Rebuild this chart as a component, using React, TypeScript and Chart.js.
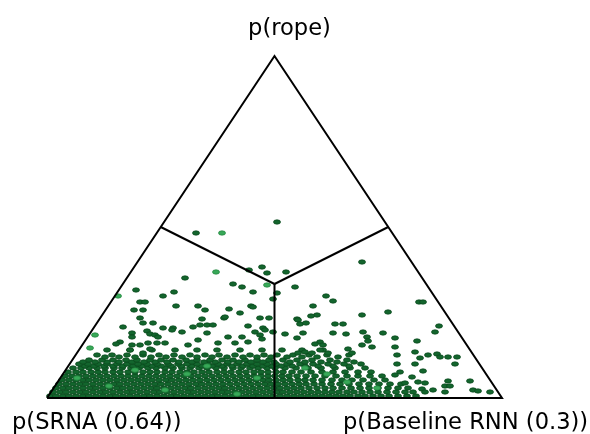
import React, { useEffect, useRef } from "react";
import { Chart, registerables } from "chart.js";

Chart.register(...registerables);

// Simplex plot units: base of the triangle spans 0..455, apex height is 342.
const BASE = 455;
const HEIGHT = 342;

const labelLeft = "p(SRNA (0.64))";
const labelRight = "p(Baseline RNN (0.3))";
const labelTop = "p(rope)";

// Sparse samples above the dense band (x, y in simplex plot units)
const sparseX = [230, 149, 215, 220, 202, 138, 186, 195, 206, 226, 89, 127, 116, 93, 98, 129, 151, 158, 182, 204, 206, 193, 87, 96, 93, 155, 177, 213, 222,
  239, 315, 248, 230, 279, 286, 266, 270, 264, 315, 341, 372, 376, 250,
  106, 76, 96, 160, 166, 153, 201, 216, 116, 126, 146,
  85, 85, 100, 103, 73, 69, 85, 93, 101, 110, 83, 103, 96,
  178, 135, 160, 181, 208, 218, 213, 108, 111, 151, 195, 171, 188, 201, 215, 118, 141, 125,
  251, 253, 259, 288, 296, 238, 256, 250, 286, 299, 316, 336, 320, 321, 315, 325, 273, 268, 276, 301, 305, 258, 251, 265, 273, 281, 226,
  392, 388, 348, 370, 348, 368, 381, 390, 393, 401, 410, 350, 373, 350, 368, 408, 376, 353, 365, 348, 401, 423, 371, 378, 358, 398, 403, 426, 431, 443, 386, 398, 375, 378];
const sparseY = [176, 165, 131, 125, 128, 120, 114, 111, 106, 99, 108, 106, 102, 96, 96, 92, 92, 88, 89, 92, 91, 85, 88, 88, 80, 79, 80, 80, 80,
  126, 136, 111, 105, 102, 97, 92, 83, 82, 83, 86, 96, 96, 79,
  75, 71, 75, 73, 73, 73, 72, 70, 70, 70, 71,
  65, 61, 67, 64, 56, 54, 53, 53, 55, 55, 48, 49, 45,
  81, 66, 65, 61, 66, 68, 63, 63, 61, 58, 61, 55, 55, 56, 59, 55, 53, 68,
  78, 74, 75, 74, 74, 64, 65, 60, 65, 64, 66, 65, 61, 57, 53, 51, 56, 54, 53, 49, 45, 46, 45, 45, 48, 45, 66,
  72, 66, 60, 57, 51, 46, 43, 44, 41, 41, 41, 43, 40, 34, 34, 34, 27, 26, 21, 23, 17, 17, 16, 15, 15, 12, 12, 8, 7, 6, 8, 6, 9, 6];

// Lighter-coloured samples
const lightX = [175, 169, 220, 71, 48, 43, 140, 62, 258, 118, 300, 30, 190, 88, 330, 210, 160, 280];
const lightY = [165, 126, 113, 102, 63, 50, 24, 12, 30, 8, 16, 20, 4, 28, 10, 20, 32, 24];

// Dense band near the base: one row height with its x positions
const bandY = [2, 6, 10, 14, 18, 22, 26, 30, 32, 34, 36, 38, 41, 43, 48];
const bandX = [
  [3, 9, 16, 22, 29, 36, 42, 49, 56, 63, 69, 76, 83, 90, 97, 103, 110, 117, 124, 130, 137, 144, 151, 158, 165, 171, 178, 185, 192, 199, 206, 212, 219, 226, 233, 240, 247, 254, 261, 268, 275, 282, 289, 296, 303, 311, 318, 326, 334, 342, 351, 360, 369],
  [6, 13, 19, 26, 33, 39, 46, 53, 59, 66, 73, 80, 86, 93, 100, 107, 113, 120, 127, 134, 141, 147, 154, 161, 168, 175, 181, 188, 195, 202, 209, 216, 223, 230, 236, 243, 250, 257, 264, 271, 278, 285, 292, 300, 307, 315, 323, 331, 340, 349, 358, 366],
  [9, 16, 22, 29, 36, 43, 49, 56, 63, 70, 76, 83, 90, 97, 104, 110, 117, 124, 131, 138, 144, 151, 158, 165, 172, 178, 185, 192, 199, 206, 213, 220, 227, 233, 240, 247, 254, 262, 270, 278, 286, 295, 304, 313, 322, 331, 341, 351, 361],
  [12, 19, 26, 33, 39, 46, 53, 60, 67, 73, 80, 87, 94, 101, 108, 114, 121, 128, 135, 142, 149, 155, 162, 169, 176, 183, 190, 197, 204, 211, 218, 224, 231, 238, 245, 252, 259, 267, 275, 284, 293, 302, 312, 322, 332, 343, 354],
  [15, 22, 29, 36, 42, 49, 56, 63, 70, 77, 84, 91, 98, 105, 112, 119, 125, 132, 139, 146, 153, 160, 167, 174, 181, 188, 195, 202, 209, 216, 222, 229, 236, 243, 251, 258, 266, 275, 285, 295, 305, 316, 327, 338],
  [18, 25, 32, 39, 46, 53, 60, 67, 74, 81, 88, 95, 102, 109, 116, 123, 130, 137, 144, 151, 158, 165, 172, 179, 186, 193, 200, 207, 214, 221, 228, 235, 242, 250, 259, 268, 278, 289, 300, 311, 323, 335],
  [21, 29, 36, 44, 51, 58, 66, 73, 81, 88, 96, 103, 110, 118, 125, 133, 140, 147, 155, 162, 170, 177, 184, 192, 199, 207, 214, 221, 229, 236, 245, 254, 264, 275, 286, 298, 311, 324],
  [26, 34, 42, 50, 58, 67, 75, 84, 92, 101, 109, 118, 126, 135, 143, 152, 160, 169, 177, 186, 194, 203, 211, 220, 228, 238, 249, 261, 274, 288, 303, 318],
  [38, 47, 57, 66, 76, 86, 95, 105, 114, 124, 134, 145, 155, 165, 175, 185, 196, 206, 216, 225, 234, 245, 258, 271, 286, 302],
  [32, 41, 51, 60, 70, 80, 91, 100, 110, 121, 131, 140, 150, 161, 171, 180, 190, 200, 210, 220, 229, 240, 253, 266, 281, 297, 314],
  [36, 48, 60, 72, 85, 97, 108, 120, 132, 145, 157, 168, 181, 192, 204, 216, 227, 243, 258, 274, 290, 307],
  [42, 55, 66, 79, 90, 103, 114, 126, 139, 150, 163, 175, 186, 198, 210, 222, 236, 250, 265, 283, 300],
  [58, 72, 88, 104, 119, 135, 150, 165, 180, 196, 210, 224, 240, 255, 270, 291],
  [50, 65, 80, 96, 112, 127, 143, 158, 172, 188, 203, 217, 230, 246, 262, 280, 302],
  [60, 83, 105, 128, 150, 170, 193, 215, 235, 255, 276],
];

function makeDot(fill: string, edge: string): HTMLCanvasElement {
  const c = document.createElement("canvas");
  c.width = 8;
  c.height = 6;
  const g = c.getContext("2d")!;
  g.fillStyle = fill;
  g.strokeStyle = edge;
  g.lineWidth = 0.7;
  g.beginPath();
  g.ellipse(4, 3, 3.5, 2.2, 0, 0, Math.PI * 2);
  g.fill();
  g.stroke();
  return c;
}

const labelPlugin = {
  id: "vertexLabels",
  afterDraw(chart: any) {
    const ctx = chart.ctx;
    const xs = chart.scales.x;
    const ys = chart.scales.y;
    ctx.save();
    ctx.font = '22.6px "DejaVu Sans"';
    ctx.fillStyle = "#000";
    ctx.textBaseline = "alphabetic";
    ctx.textAlign = "center";
    ctx.fillText(labelTop, xs.getPixelForValue(BASE / 2) + 15, ys.getPixelForValue(HEIGHT) - 21);
    ctx.textAlign = "left";
    ctx.fillText(labelLeft, xs.getPixelForValue(0) - 35, ys.getPixelForValue(0) + 31);
    ctx.fillText(labelRight, xs.getPixelForValue(BASE) - 159, ys.getPixelForValue(0) + 31);
    ctx.restore();
  },
};

export default function App() {
  const ref = useRef<HTMLCanvasElement>(null);
  useEffect(() => {
    const dark = makeDot("#13652d", "#0a481d");
    const light = makeDot("#38a858", "#23853f");
    const densePts: { x: number; y: number }[] = [];
    bandY.forEach((y, i) => bandX[i].forEach((x) => densePts.push({ x, y })));
    const sparsePts = sparseX.map((x, i) => ({ x, y: sparseY[i] }));
    const lightPts = lightX.map((x, i) => ({ x, y: lightY[i] }));
    const cx = BASE / 2;
    const cy = HEIGHT / 3;
    const lineDs = (data: { x: number; y: number }[]) => ({
      type: "line" as const,
      data,
      borderColor: "#000",
      borderWidth: 2,
      pointRadius: 0,
      fill: false,
      tension: 0,
      clip: false as any,
    });
    const chart = new Chart(ref.current!, {
      type: "scatter",
      data: {
        datasets: [
          lineDs([{ x: 0, y: 0 }, { x: BASE, y: 0 }, { x: cx, y: HEIGHT }, { x: 0, y: 0 }]) as any,
          lineDs([{ x: cx, y: cy }, { x: BASE / 4, y: HEIGHT / 2 }]) as any,
          lineDs([{ x: cx, y: cy }, { x: (3 * BASE) / 4, y: HEIGHT / 2 }]) as any,
          lineDs([{ x: cx, y: cy }, { x: cx, y: 0 }]) as any,
          { data: lightPts, pointStyle: light, pointRadius: 3, clip: false as any },
          { data: sparsePts, pointStyle: dark, pointRadius: 3, clip: false as any },
          { data: densePts, pointStyle: dark, pointRadius: 3, clip: false as any },
        ],
      },
      options: {
        responsive: false,
        animation: false,
        events: [],
        layout: { padding: { left: 47, right: 88, top: 56, bottom: 36 } },
        plugins: { legend: { display: false }, tooltip: { enabled: false } },
        scales: {
          x: { type: "linear", min: 0, max: BASE, display: false },
          y: { type: "linear", min: 0, max: HEIGHT, display: false },
        },
      },
      plugins: [labelPlugin],
    });
    return () => chart.destroy();
  }, []);
  return (
    <div style={{ position: "absolute", left: 0, top: 0, width: 590, height: 434, background: "#fff" }}>
      <canvas ref={ref} width={590} height={434} />
    </div>
  );
}
